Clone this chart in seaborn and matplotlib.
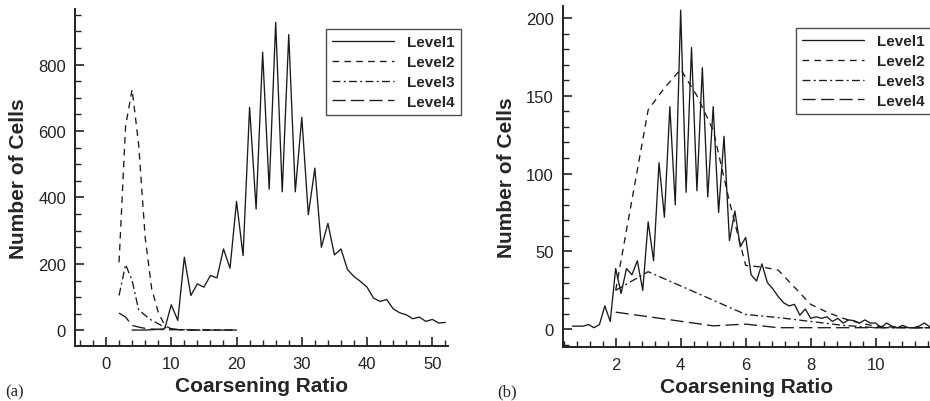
import numpy as np
import pandas as pd
import matplotlib
matplotlib.use("Agg")
import matplotlib.pyplot as plt
import seaborn as sns
from matplotlib.ticker import MultipleLocator
from matplotlib.lines import Line2D

# ---------------- data: panel (a) ----------------
a_l1_x = list(range(4, 53))
a_l1_y = [1, 1, 1, 2, 3, 5, 77, 30, 220, 105, 140, 130, 165, 158, 245, 187, 388, 225,
          671, 365, 837, 425, 927, 417, 890, 417, 641, 348, 488, 250, 322, 227, 245,
          183, 162, 147, 130, 97, 87, 93, 65, 53, 47, 35, 40, 27, 33, 22, 24]
a_l2_x = list(range(2, 21))
a_l2_y = [205, 615, 725, 560, 280, 125, 55, 15, 4, 2, 2, 1, 1, 1, 1, 1, 1, 1, 1]
a_l3_x = list(range(2, 21))
a_l3_y = [105, 198, 150, 62, 45, 30, 20, 10, 5, 3, 2, 2, 1, 1, 1, 1, 1, 1, 1]
a_l4_x = list(range(2, 21))
a_l4_y = [52, 40, 15, 10, 6, 4, 3, 2, 2, 2, 1, 1, 1, 1, 1, 1, 1, 1, 1]

# ---------------- data: panel (b) ----------------
b_l1_k = list(range(4, 71))          # x = k / 6
b_l1_y = [2, 2, 2, 3, 1, 3, 15, 5, 39, 23, 39, 35, 44, 25, 69, 44, 107, 72, 143, 80,
          205, 88, 181, 89, 168, 85, 143, 75, 124, 57, 76, 53, 59, 35, 31, 42, 30, 26,
          21, 17, 15, 16, 9, 13, 7, 8, 7, 8, 5, 7, 4, 6, 5.5, 4, 6, 4, 4, 1, 4, 2, 1,
          2.5, 1, 1, 2, 4, 1.5]
b_l2_x = [2, 3, 3.5, 4, 4.5, 5, 5.5, 6, 6.5, 7, 7.5, 8, 8.5, 9, 9.5, 10, 10.5, 11, 11.67]
b_l2_y = [25, 141, 155, 167, 150, 128, 82, 41, 40, 38, 27, 16, 11, 7, 4, 2, 1.5, 1, 1]
b_l3_x = [2, 3, 6, 7, 8, 9, 10, 11, 11.67]
b_l3_y = [25, 37, 9.5, 7.5, 5, 2.5, 1, 1, 1]
b_l4_x = [2, 5, 6, 7, 8, 9, 10, 11, 11.67]
b_l4_y = [11, 2.2, 3.3, 1, 1, 1, 1, 1, 1]

labels = ["Level1", "Level2", "Level3", "Level4"]
styles = ["-", (0, (5, 4)), (0, (6, 2.5, 1.5, 2.5)), (0, (10, 4))]

sns.set_style("ticks")
plt.rcParams["font.family"] = ["Liberation Sans", "DejaVu Sans"]

fig = plt.figure(figsize=(9.3, 4.02), dpi=100)
axa = fig.add_axes([75 / 930, 55 / 402, 373 / 930, 337 / 402])
axb = fig.add_axes([563 / 930, 54 / 402, 367 / 930, 341 / 402])

a_sets = [(a_l1_x, a_l1_y), (a_l2_x, a_l2_y), (a_l3_x, a_l3_y), (a_l4_x, a_l4_y)]
b_sets = [([k / 6 for k in b_l1_k], b_l1_y), (b_l2_x, b_l2_y), (b_l3_x, b_l3_y), (b_l4_x, b_l4_y)]

for ax, sets in ((axa, a_sets), (axb, b_sets)):
    for (xs, ys), ls in zip(sets, styles):
        df = pd.DataFrame({"x": xs, "y": ys})
        sns.lineplot(data=df, x="x", y="y", ax=ax, color="#1a1a1a", lw=0.95,
                     linestyle=ls, estimator=None, sort=False, clip_on=True)

axa.set_xlim(-4.75, 52.4)
axa.set_ylim(-47, 967)
axa.xaxis.set_major_locator(MultipleLocator(10))
axa.xaxis.set_minor_locator(MultipleLocator(2))
axa.yaxis.set_major_locator(MultipleLocator(200))
axa.yaxis.set_minor_locator(MultipleLocator(50))

axb.set_xlim(0.38, 11.67)
axb.set_ylim(-11.4, 207.7)
axb.xaxis.set_major_locator(MultipleLocator(2))
axb.xaxis.set_minor_locator(MultipleLocator(0.4))
axb.yaxis.set_major_locator(MultipleLocator(50))
axb.yaxis.set_minor_locator(MultipleLocator(10))

for ax in (axa, axb):
    for s in ("top", "right"):
        ax.spines[s].set_visible(False)
    for s in ("left", "bottom"):
        ax.spines[s].set_linewidth(1.4)
        ax.spines[s].set_color("#222222")
    ax.tick_params(which="both", direction="in")
    ax.tick_params(which="major", length=6.5, width=1.2, labelsize=12, colors="#222222")
    ax.tick_params(which="minor", length=4, width=1.0, colors="#222222")
    ax.tick_params(axis="x", which="major", pad=7)
    ax.tick_params(axis="y", which="major", pad=6.5)
    ax.set_xlabel("Coarsening Ratio", fontsize=15, fontweight="bold", labelpad=4)
    ax.set_ylabel("Number of Cells", fontsize=15, fontweight="bold", labelpad=7)

handles = [Line2D([0], [0], color="#1a1a1a", lw=0.95, linestyle=ls) for ls in styles]
for xl, yt in ((326, 30), (796, 29)):
    leg = fig.legend(handles, labels, loc="upper left",
                     bbox_to_anchor=(xl / 930, 1 - yt / 402),
                     prop={"family": "Liberation Sans", "weight": "bold", "size": 11},
                     frameon=True, fancybox=False, handlelength=4.0, handletextpad=0.9,
                     labelspacing=0.38, borderpad=0.42, borderaxespad=0)
    leg.get_frame().set_edgecolor("#222222")
    leg.get_frame().set_linewidth(1.0)

fig.text(5 / 930, 1 - 396 / 402, "(a)", fontsize=12, family="Liberation Serif")
fig.text(497 / 930, 1 - 396 / 402, "(b)", fontsize=12, family="Liberation Serif")

fig.savefig("out.png", dpi=100)
